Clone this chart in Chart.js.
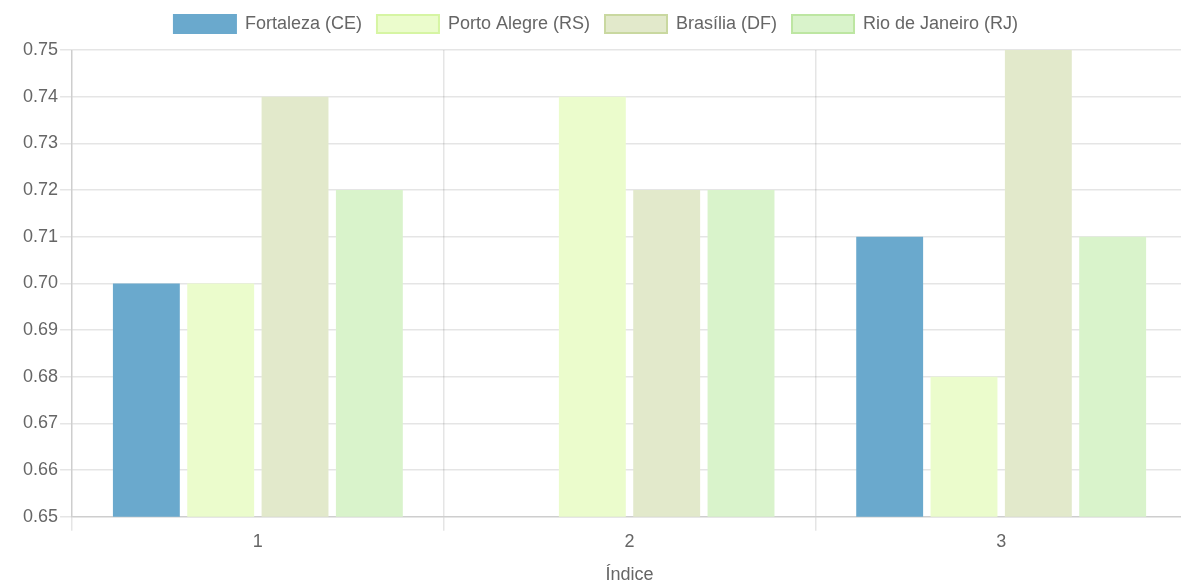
<!DOCTYPE html>
<html>
<head>
<meta charset="utf-8">
<script src="https://cdn.jsdelivr.net/npm/chart.js@4.4.1/dist/chart.umd.min.js"></script>
<style>
    html, body { margin: 0; padding: 0; background: #fff; overflow: hidden; }
    #wrap { width: 1190px; height: 588px; }
</style>
</head>
<body>
<div id="wrap"><canvas id="chart"></canvas></div>
<script>
// Data
const categories = ["1", "2", "3"];
const cityNames = ["Fortaleza (CE)", "Porto Alegre (RS)", "Brasília (DF)", "Rio de Janeiro (RJ)"];
const fortaleza = [0.70, null, 0.71];
const portoAlegre = [0.70, 0.74, 0.68];
const brasilia = [0.74, 0.72, 0.75];
const rioDeJaneiro = [0.72, 0.72, 0.71];
const yTicks = [0.65, 0.66, 0.67, 0.68, 0.69, 0.70, 0.71, 0.72, 0.73, 0.74, 0.75];

const fills = ["#6aa9cd", "#ebfccc", "#e2e9cb", "#d9f3cb"];
const strokes = ["#6aa9cd", "#d6f5a3", "#c9d8a0", "#bde6a2"];

const FONT = "'Liberation Sans', Arial, sans-serif";
const gray = "#666";
const gridColor = "rgba(0, 0, 0, 0.1)";

const series = [fortaleza, portoAlegre, brasilia, rioDeJaneiro];

const data = {
    labels: categories,
    datasets: series.map((values, i) => ({
        label: cityNames[i],
        data: values,
        backgroundColor: fills[i],
        borderWidth: 0,
    })),
};

// a bit more room under the legend, and nudge it left a little
const legendSpacing = {
    id: "legendSpacing",
    beforeInit(chart) {
        if (!chart.legend) return;
        const fit = chart.legend.fit;
        chart.legend.fit = function () {
            fit.call(this);
            this.height += 7;
        };
    },
    afterLayout(chart) {
        if (!chart.legend) return;
        chart.legend.left -= 8;
        chart.legend.right -= 8;
    },
};

new Chart(document.getElementById("chart"), {
    type: "bar",
    data: data,
    plugins: [legendSpacing],
    options: {
        responsive: true,
        maintainAspectRatio: false,
        animation: false,
        layout: { padding: { left: 21, right: 3, top: 0, bottom: 0 } },
        plugins: {
            tooltip: { enabled: false },
            legend: {
                position: "top",
                labels: {
                    boxWidth: 62,
                    boxHeight: 18,
                    padding: 15,
                    color: gray,
                    font: { family: FONT, size: 18 },
                    // outline the legend boxes like the original
                    generateLabels(chart) {
                        const items = Chart.defaults.plugins.legend.labels.generateLabels(chart);
                        items.forEach((item, i) => {
                            item.strokeStyle = strokes[i];
                            item.lineWidth = 2;
                        });
                        return items;
                    },
                },
            },
        },
        scales: {
            x: {
                grid: { color: gridColor, lineWidth: 1.5, tickLength: 14, offset: true },
                border: { color: gridColor, width: 1.5 },
                ticks: { color: gray, padding: 0, font: { family: FONT, size: 18 } },
                title: {
                    display: true,
                    text: "Índice",
                    color: gray,
                    padding: { top: 12, bottom: 2 },
                    font: { family: FONT, size: 18 },
                },
            },
            y: {
                min: yTicks[0],
                max: yTicks[yTicks.length - 1],
                afterBuildTicks(axis) {
                    axis.ticks = yTicks.map((v) => ({ value: v }));
                },
                grid: { color: gridColor, lineWidth: 1.5, tickLength: 12 },
                border: { color: gridColor, width: 1.5 },
                ticks: {
                    color: gray,
                    padding: 2,
                    font: { family: FONT, size: 18 },
                    callback: (v) => Number(v).toFixed(2),
                },
            },
        },
    },
});
</script>
</body>
</html>
